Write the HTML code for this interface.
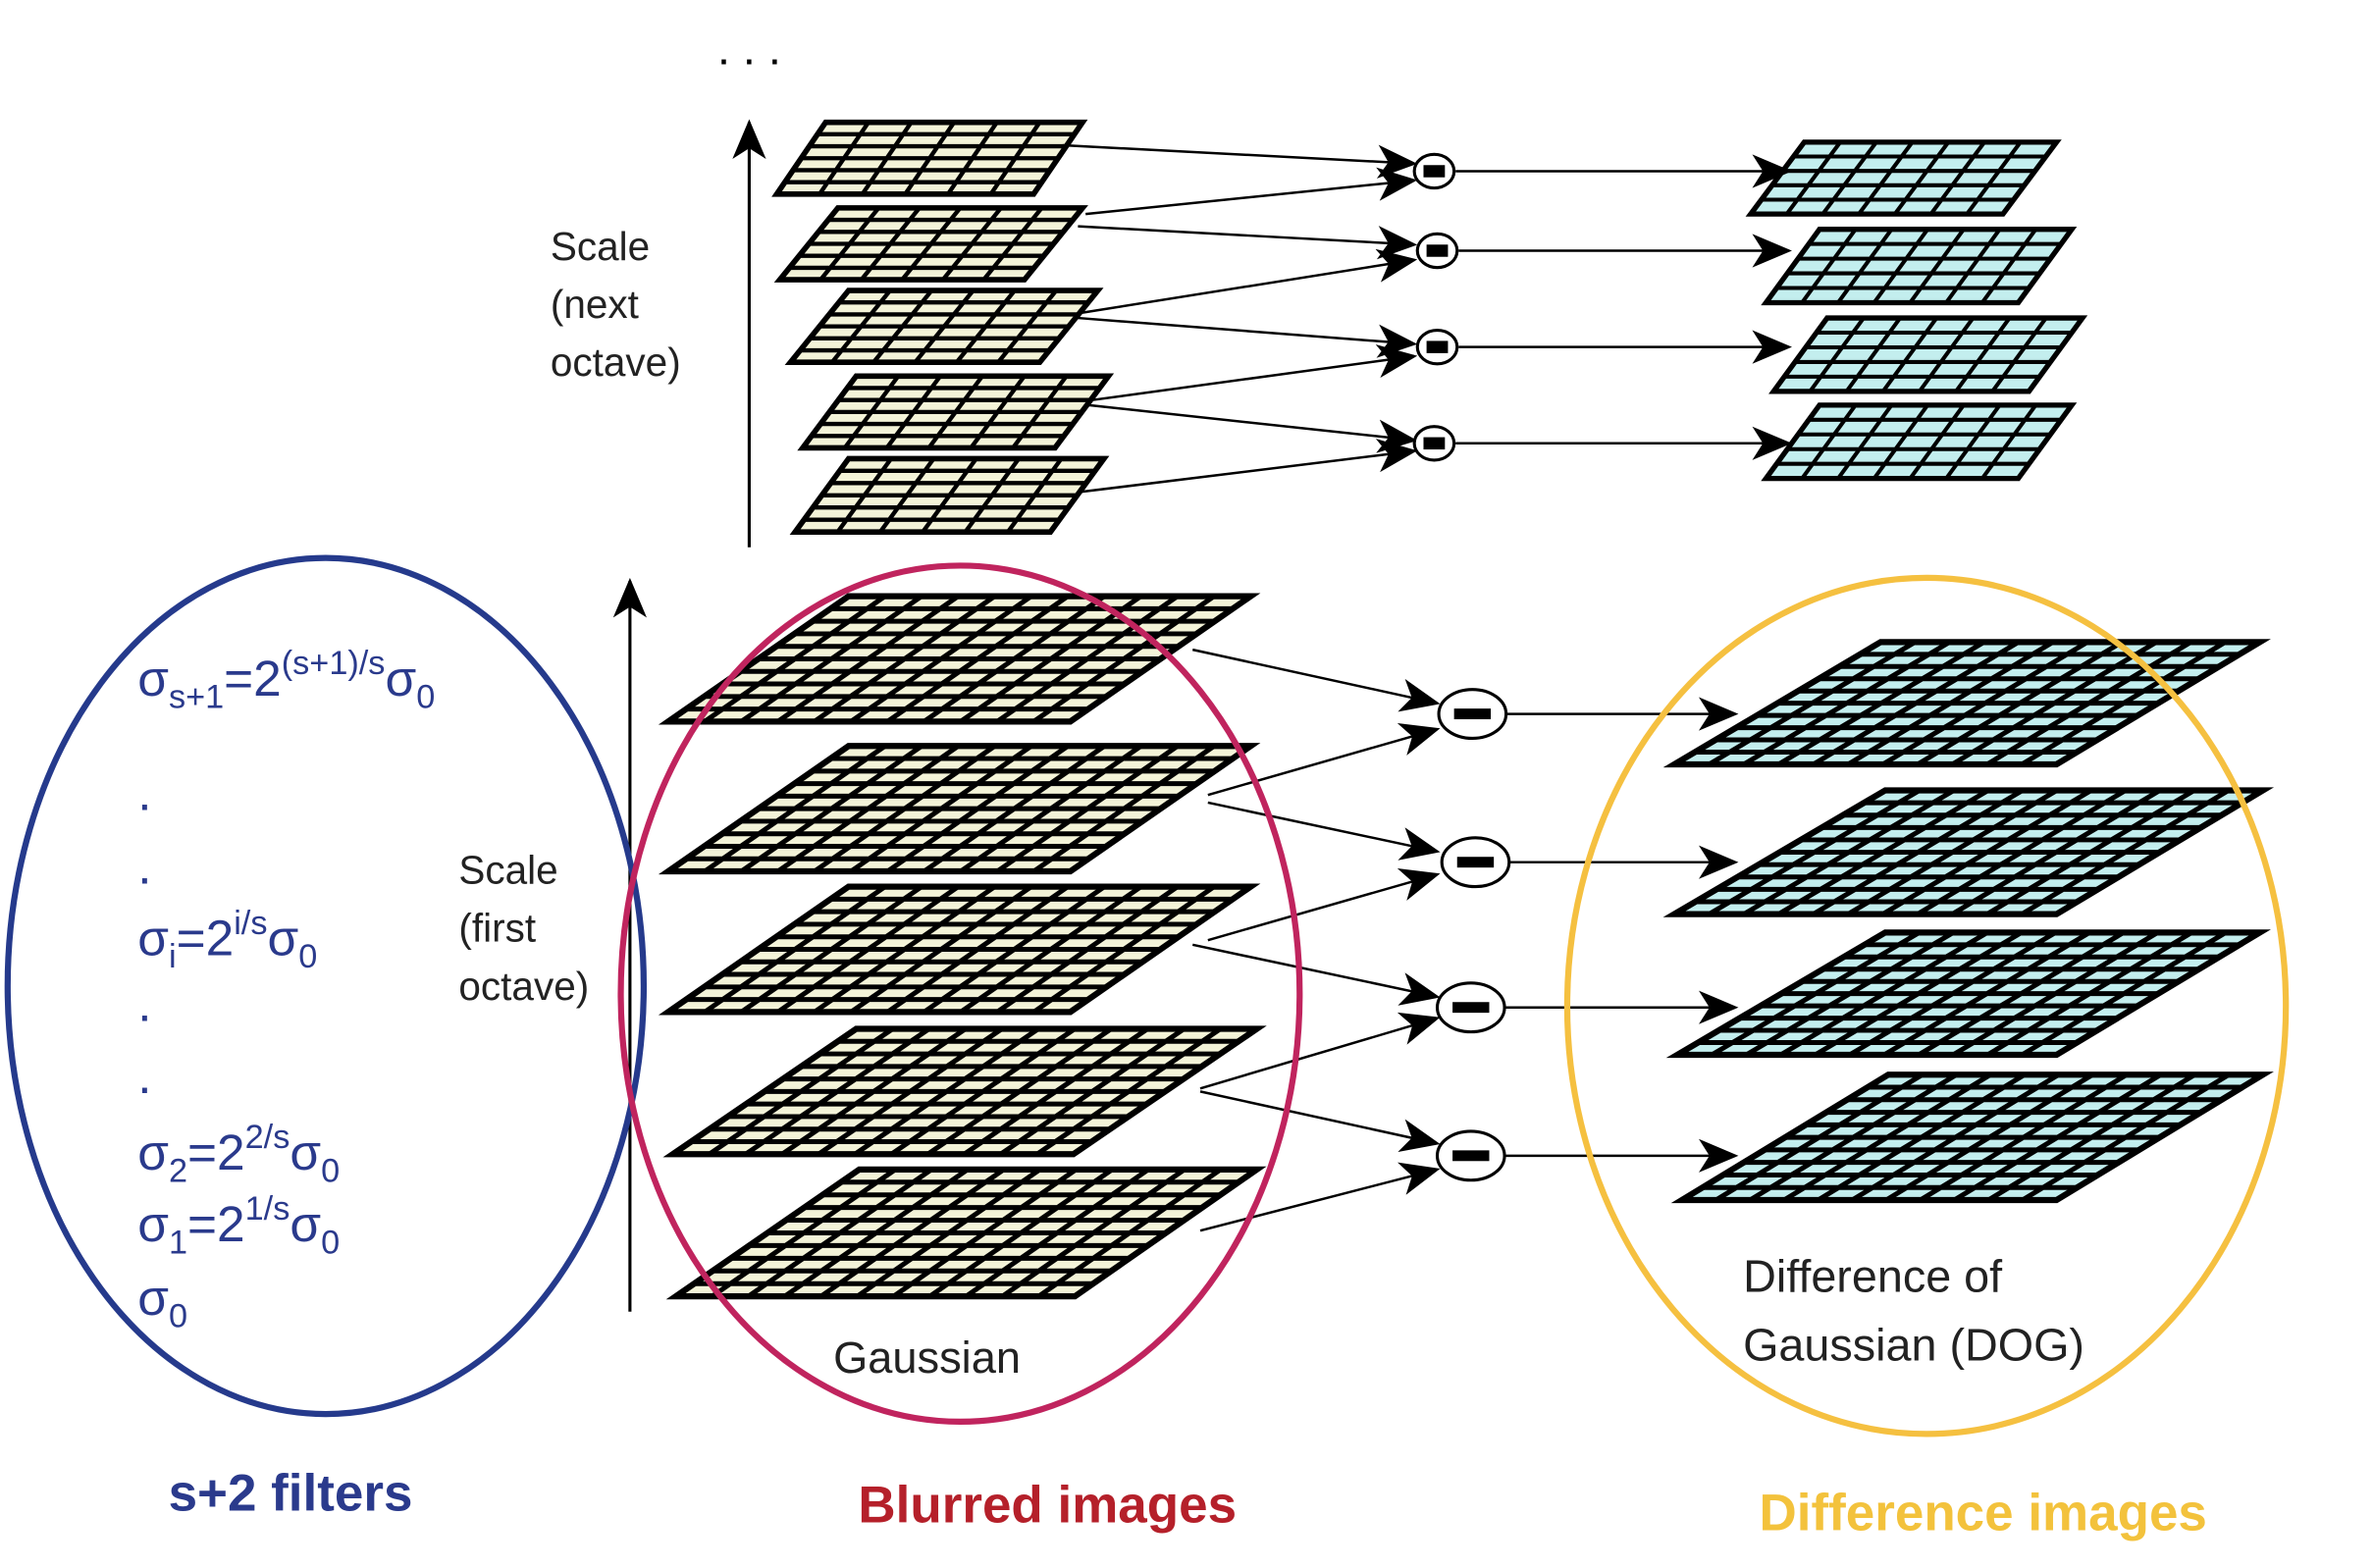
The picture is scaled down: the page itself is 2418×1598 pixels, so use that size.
<!DOCTYPE html>
<html><head><meta charset="utf-8"><style>
html,body{margin:0;padding:0;background:#fff}
svg{display:block}
text{font-family:"Liberation Sans",sans-serif}
</style></head><body>
<svg id="s" width="2418" height="1598" viewBox="0 0 1552 1025.7" preserveAspectRatio="none" xmlns="http://www.w3.org/2000/svg">
<defs>
<marker id="ah2" markerWidth="26" markerHeight="22" refX="24" refY="11" orient="auto" markerUnits="userSpaceOnUse"><path d="M0,0 L26,11 L0,22 L7,11 Z" fill="#000"/></marker>
</defs>
<g id="layers"></g>
<g id="arrows"></g>
<g id="circles"></g>
<line x1="490" y1="358" x2="490" y2="80" stroke="#000" stroke-width="2" marker-end="url(#ah2)"/>
<line x1="412" y1="858" x2="412" y2="380" stroke="#000" stroke-width="2" marker-end="url(#ah2)"/>
<text x="490" y="42" font-size="30" text-anchor="middle" fill="#000">. . .</text>
<g font-size="26" fill="#222">
<text x="360" y="170">Scale</text><text x="360" y="208">(next</text><text x="360" y="246">octave)</text></g>
<g font-size="26" fill="#222">
<text x="300" y="578">Scale</text><text x="300" y="616">(first</text><text x="300" y="654">octave)</text></g>
<text x="545" y="898" font-size="29" fill="#222">Gaussian</text>
<g font-size="30" fill="#222">
<text x="1140" y="845">Difference of</text><text x="1140" y="890">Gaussian (DOG)</text></g>
<ellipse cx="213" cy="645" rx="208" ry="280" fill="none" stroke="#253a8c" stroke-width="4"/>
<ellipse cx="628" cy="650" rx="222" ry="280" fill="none" stroke="#c0245e" stroke-width="4"/>
<ellipse cx="1260" cy="658" rx="235" ry="280" fill="none" stroke="#f5c040" stroke-width="4"/>
<g fill="#2a3a8c" font-size="33">
<text x="90" y="455">σ<tspan font-size="22" dy="8">s+1</tspan><tspan dy="-8">=2</tspan><tspan font-size="22" dy="-14">(s+1)/s</tspan><tspan dy="14">σ</tspan><tspan font-size="22" dy="8">0</tspan></text>
<text x="90" y="530">.</text><text x="90" y="578">.</text>
<text x="90" y="625">σ<tspan font-size="22" dy="8">i</tspan><tspan dy="-8">=2</tspan><tspan font-size="22" dy="-14">i/s</tspan><tspan dy="14">σ</tspan><tspan font-size="22" dy="8">0</tspan></text>
<text x="90" y="668">.</text><text x="90" y="715">.</text>
<text x="90" y="765">σ<tspan font-size="22" dy="8">2</tspan><tspan dy="-8">=2</tspan><tspan font-size="22" dy="-14">2/s</tspan><tspan dy="14">σ</tspan><tspan font-size="22" dy="8">0</tspan></text>
<text x="90" y="812">σ<tspan font-size="22" dy="8">1</tspan><tspan dy="-8">=2</tspan><tspan font-size="22" dy="-14">1/s</tspan><tspan dy="14">σ</tspan><tspan font-size="22" dy="8">0</tspan></text>
<text x="90" y="860">σ<tspan font-size="22" dy="8">0</tspan></text>
</g>
<text x="190" y="988" font-size="34" font-weight="bold" fill="#2a3a8c" text-anchor="middle">s+2 filters</text>
<text x="685" y="996" font-size="34" font-weight="bold" fill="#b5202a" text-anchor="middle">Blurred images</text>
<text x="1297" y="1001" font-size="34" font-weight="bold" fill="#f3c23c" text-anchor="middle">Difference images</text>
</svg>
<script>
var topGauss=[[80,540,708,127,508,676,6,6],[136,548,708,183,510,670,6,6],[190,555,718,237,517,680,6,6],[246,560,725,293,525,690,6,6],[300,555,722,348,520,687,6,6]];
var topDog=[[93,1180,1345,140,1145,1310,7,5],[150,1190,1355,198,1155,1320,7,5],[208,1195,1362,256,1160,1327,7,5],[265,1190,1355,313,1155,1320,7,5]];
var botGauss=[[390,555,818,472,437,700,11,10],[488,555,818,570,437,700,11,10],[580,555,818,662,437,700,11,10],[673,560,822,755,440,702,11,10],[765,562,822,848,442,703,11,10]];
var botDog=[[420,1230,1478,500,1095,1345,11,10],[517,1233,1480,598,1095,1345,11,10],[610,1233,1478,690,1097,1345,11,10],[703,1235,1480,785,1100,1345,11,10]];
var topCircles=[[938,112],[940,164],[940,227],[938,290]];
var botCircles=[[963,467],[965,564],[962,659],[962,756]];
var topArrows=[[695,95,925,107],[710,140,925,118],[705,148,925,160],[705,205,925,170],[705,208,925,225],[712,262,925,233],[712,265,925,288],[705,322,925,295]];
var botArrows=[[780,425,940,460],[790,520,940,477],[790,525,940,557],[790,615,940,572],[780,618,940,652],[785,712,940,666],[785,714,940,748],[785,805,940,765]];
var NS="http://www.w3.org/2000/svg";
var LG=document.getElementById('layers'),AG=document.getElementById('arrows'),CG=document.getElementById('circles');
function mk(t,a){var e=document.createElementNS(NS,t);for(var k in a)e.setAttribute(k,a[k]);return e;}
function layer(L,fill,sw,name){
  var g=mk('g',{});
  
  
  var ty=L[0],tl=L[1],tr=L[2],by=L[3],bl=L[4],br=L[5],c=L[6],r=L[7];
  g.appendChild(mk('polygon',{points:tl+','+ty+' '+tr+','+ty+' '+br+','+by+' '+bl+','+by,fill:fill,stroke:'#000','stroke-width':sw+0.8,'stroke-linejoin':'miter'}));
  var d='';
  for(var i=1;i<r;i++){var f=i/r;var y=ty+(by-ty)*f;d+='M'+(tl+(bl-tl)*f)+','+y+'L'+(tr+(br-tr)*f)+','+y;}
  for(var j=1;j<c;j++){var f=j/c;d+='M'+(tl+(tr-tl)*f)+','+ty+'L'+(bl+(br-bl)*f)+','+by;}
  g.appendChild(mk('path',{d:d,stroke:'#000','stroke-width':sw,fill:'none'}));
  LG.appendChild(g);
}
topGauss.forEach(function(L){layer(L,'#f3f3d8',2.8,'gaussian-layer-next-octave');});
topDog.forEach(function(L){layer(L,'#c3eeee',2.6,'dog-layer-next-octave');});
botGauss.forEach(function(L){layer(L,'#f3f3d8',3.2,'gaussian-layer-first-octave');});
botDog.forEach(function(L){layer(L,'#c3eeee',3.2,'dog-layer-first-octave');});
function arrow(a,name,m){var l=mk('line',{x1:a[0],y1:a[1],x2:a[2],y2:a[3],stroke:'#000','stroke-width':1.6,'marker-end':'url(#'+m+')'});
  
  
  AG.appendChild(l);}
topArrows.forEach(function(a){arrow(a,'subtract-input-arrow','ah2');});
botArrows.forEach(function(a){arrow(a,'subtract-input-arrow','ah2');});
topCircles.forEach(function(c){
  arrow([c[0]+14,c[1],1170,c[1]],'dog-output-arrow','ah2');
  var g=mk('g',{});
  
  
  g.appendChild(mk('ellipse',{cx:c[0],cy:c[1],rx:13,ry:11,fill:'#fff',stroke:'#000','stroke-width':2}));
  g.appendChild(mk('rect',{x:c[0]-7,y:c[1]-4,width:14,height:8,fill:'#000'}));
  CG.appendChild(g);
});
botCircles.forEach(function(c){
  arrow([c[0]+22,c[1],1135,c[1]],'dog-output-arrow','ah2');
  var g=mk('g',{});
  
  
  g.appendChild(mk('ellipse',{cx:c[0],cy:c[1],rx:22,ry:16,fill:'#fff',stroke:'#000','stroke-width':2}));
  g.appendChild(mk('rect',{x:c[0]-12,y:c[1]-3.5,width:24,height:7,fill:'#000'}));
  CG.appendChild(g);
});
</script>
</body></html>
